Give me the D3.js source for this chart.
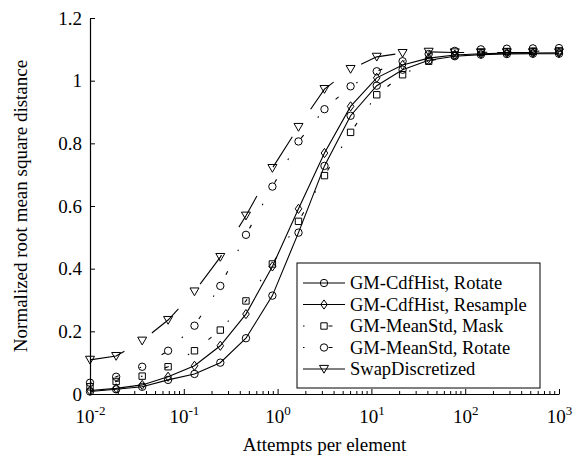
<!DOCTYPE html>
<html>
<head>
<meta charset="utf-8">
<script src="https://cdn.jsdelivr.net/npm/d3@7"></script>
<style>
body { margin: 0; background: #fff; }
text { font-family: "Liberation Serif", "Times New Roman", serif; fill: #000; }
</style>
</head>
<body>
<div id="chart"></div>
<script>
// attempts per element (x) and the five curves
var attempts = [0.01, 0.019, 0.036, 0.068, 0.13, 0.245, 0.46, 0.88, 1.67, 3.16, 6.0, 11.4, 21.5, 40.8, 77.4, 147, 278, 527, 1000];
var cdfRotate = [0.008, 0.015, 0.023, 0.045, 0.064, 0.100, 0.178, 0.314, 0.515, 0.728, 0.888, 0.984, 1.035, 1.065, 1.078, 1.083, 1.085, 1.086, 1.086];
var cdfResample = [0.011, 0.018, 0.029, 0.055, 0.090, 0.154, 0.255, 0.407, 0.591, 0.769, 0.918, 1.009, 1.050, 1.072, 1.082, 1.086, 1.088, 1.088, 1.089];
var meanMask = [0.023, 0.040, 0.057, 0.087, 0.138, 0.204, 0.297, 0.415, 0.551, 0.697, 0.835, 0.955, 1.019, 1.062, 1.082, 1.090, 1.093, 1.094, 1.095];
var meanRotate = [0.036, 0.055, 0.087, 0.138, 0.218, 0.345, 0.508, 0.662, 0.806, 0.909, 0.982, 1.030, 1.062, 1.085, 1.095, 1.100, 1.102, 1.103, 1.104];
var swapDisc = [0.109, 0.121, 0.170, 0.236, 0.327, 0.437, 0.569, 0.721, 0.852, 0.973, 1.037, 1.076, 1.088, 1.092, 1.090, 1.090, 1.090, 1.090, 1.090];

var seriesNames = ["GM-CdfHist, Rotate", "GM-CdfHist, Resample", "GM-MeanStd, Mask", "GM-MeanStd, Rotate", "SwapDiscretized"];
var yTicks = [0, 0.2, 0.4, 0.6, 0.8, 1, 1.2];
var xTicks = [0.01, 0.1, 1, 10, 100, 1000];
var xExponents = ["-2", "-1", "0", "1", "2", "3"];

var allSeries = [cdfRotate, cdfResample, meanMask, meanRotate, swapDisc];
var markers = ["circle", "diamond", "square", "circle", "triangle"];
var dashes = [null, null, "1.5,24,4,22.5", "1.5,24,4,22.5", "36,33"];

var W = 581, H = 460;
var svg = d3.select("#chart").append("svg").attr("width", W).attr("height", H);

var x = d3.scaleLog().domain([1e-2, 1e3]).range([90, 559]);
var y = d3.scaleLinear().domain([0, 1.2]).range([394, 18]);

function markerPath(type) {
  if (type == "circle") return d3.symbol().type(d3.symbolCircle).size(Math.PI * 3.7 * 3.7)();
  if (type == "square") return "M-3.2,-3.2H3.2V3.2H-3.2Z";
  if (type == "diamond") return "M0,-4.6L3.3,0L0,4.6L-3.3,0Z";
  return "M-4.5,-3.6H4.5L0,4.2Z"; // triangle pointing down
}

// minor ticks on the log axis
var minor = [];
for (var e = -2; e < 3; e++) {
  for (var k = 2; k < 10; k++) minor.push(k * Math.pow(10, e));
}
svg.append("g").selectAll("line").data(minor).enter().append("line")
  .attr("x1", function(d) { return x(d); })
  .attr("x2", function(d) { return x(d); })
  .attr("y1", 394).attr("y2", 391)
  .attr("stroke", "#000").attr("stroke-width", 1);

var xAxis = svg.append("g").attr("transform", "translate(0,394)")
  .call(d3.axisBottom(x).tickValues(xTicks).tickSize(-5).tickSizeOuter(0).tickFormat(""));
xAxis.select(".domain").attr("stroke-width", 1.2);
xAxis.selectAll(".tick").append("text")
  .attr("y", 29).attr("text-anchor", "middle")
  .style("font-size", "19px")
  .each(function(d, i) {
    var t = d3.select(this);
    t.append("tspan").text("10");
    t.append("tspan").attr("dy", -8).style("font-size", "13px").text(xExponents[i]);
  });

var yAxis = svg.append("g").attr("transform", "translate(90,0)")
  .call(d3.axisLeft(y).tickValues(yTicks).tickSize(-5).tickSizeOuter(0).tickPadding(8)
    .tickFormat(function(d) { return String(d); }));
yAxis.select(".domain").attr("stroke-width", 1.2);
yAxis.selectAll(".tick text").style("font-size", "19px").style("font-family", "Liberation Serif");

// axis titles
svg.append("text").attr("x", 324.5).attr("y", 451).attr("text-anchor", "middle")
  .style("font-size", "19px").text("Attempts per element");
svg.append("text").attr("transform", "translate(27,206) rotate(-90)").attr("text-anchor", "middle")
  .style("font-size", "19px").text("Normalized root mean square distance");

var line = d3.line()
  .x(function(d, i) { return x(attempts[i]); })
  .y(function(d) { return y(d); });

allSeries.forEach(function(vals, s) {
  svg.append("path").datum(vals)
    .attr("d", line)
    .attr("fill", "none")
    .attr("stroke", "#000")
    .attr("stroke-width", 1.1)
    .attr("stroke-dasharray", dashes[s]);
  svg.append("g").selectAll("path").data(vals).enter().append("path")
    .attr("transform", function(d, i) { return "translate(" + x(attempts[i]) + "," + y(d) + ")"; })
    .attr("d", markerPath(markers[s]))
    .attr("fill", "none")
    .attr("stroke", "#000")
    .attr("stroke-width", 1);
});

// legend
var lg = svg.append("g");
lg.append("rect").attr("x", 297).attr("y", 263).attr("width", 243).attr("height", 125)
  .attr("fill", "#fff").attr("stroke", "#000").attr("stroke-width", 1);
seriesNames.forEach(function(name, s) {
  var cy = 283 + s * 21.5;
  lg.append("line").attr("x1", 303).attr("x2", 345).attr("y1", cy).attr("y2", cy)
    .attr("stroke", "#000").attr("stroke-width", 1.1)
    .attr("stroke-dasharray", s == 4 ? null : dashes[s]);
  lg.append("path").attr("transform", "translate(324," + cy + ")")
    .attr("d", markerPath(markers[s]))
    .attr("fill", "none").attr("stroke", "#000").attr("stroke-width", 1);
  lg.append("text").attr("x", 350).attr("y", cy).attr("dy", "0.33em")
    .style("font-size", "18.5px").text(name);
});
</script>
</body>
</html>
